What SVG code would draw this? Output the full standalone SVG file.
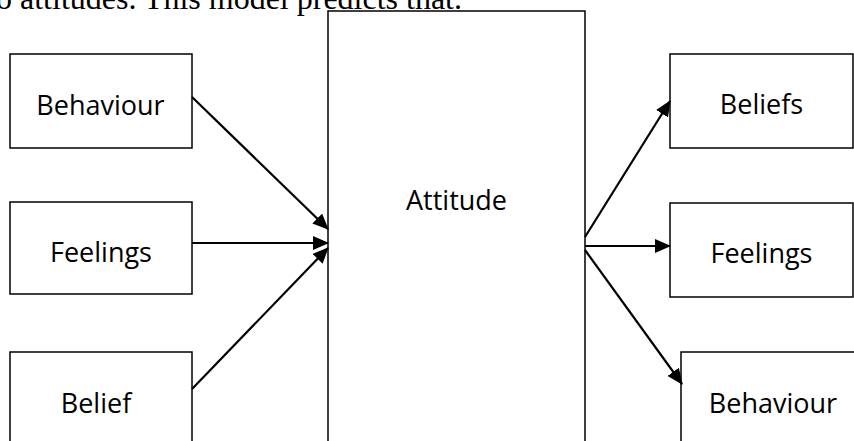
<svg xmlns="http://www.w3.org/2000/svg" width="854" height="441" viewBox="0 0 854 441">
<style>
.box{fill:#fff;stroke:#000;stroke-width:1.5}
.lbl{font-family:"Open Sans","Noto Sans","DejaVu Sans",sans-serif;font-size:27px;fill:#000;text-anchor:middle}
.con{stroke:#000;stroke-width:2.2;fill:none;marker-end:url(#ah)}
.top{font-family:"Liberation Serif","Times New Roman",serif;font-size:32px;fill:#000}
</style>
<defs>
<marker id="ah" markerUnits="userSpaceOnUse" markerWidth="16" markerHeight="14" refX="15" refY="7" orient="auto">
<path d="M0,0 L16,7 L0,14 z" fill="#000"/>
</marker>
</defs>
<rect width="854" height="441" fill="#fff"/>
<text class="top" x="-4" y="9">o attitudes. This model predicts that.</text>
<g id="attitude">
<rect class="box" x="328" y="11" width="257" height="440"/>
<text class="lbl" x="456.5" y="210">Attitude</text>
</g>
<g id="behaviour-in">
<rect class="box" x="10" y="54" width="182" height="94"/>
<text class="lbl" x="100.5" y="115">Behaviour</text>
</g>
<g id="feelings-in">
<rect class="box" x="10" y="202" width="182" height="92"/>
<text class="lbl" x="101" y="262">Feelings</text>
</g>
<g id="belief-in">
<rect class="box" x="10" y="352" width="182" height="100"/>
<text class="lbl" x="96" y="413">Belief</text>
</g>
<g id="beliefs-out">
<rect class="box" x="670" y="54" width="183" height="94"/>
<text class="lbl" x="761.5" y="114">Beliefs</text>
</g>
<g id="feelings-out">
<rect class="box" x="670" y="203" width="183" height="94"/>
<text class="lbl" x="761.5" y="263">Feelings</text>
</g>
<g id="behaviour-out">
<rect class="box" x="681" y="352" width="183" height="100"/>
<text class="lbl" x="773" y="413">Behaviour</text>
</g>
<g id="connectors">
<line class="con" x1="192" y1="97" x2="328" y2="229"/>
<line class="con" x1="192" y1="243" x2="328" y2="243"/>
<line class="con" x1="192" y1="389" x2="328" y2="248"/>
<line class="con" x1="585" y1="237" x2="670" y2="101"/>
<line class="con" x1="585" y1="246" x2="670" y2="246"/>
<line class="con" x1="585" y1="250" x2="682" y2="384"/>
</g>
</svg>
